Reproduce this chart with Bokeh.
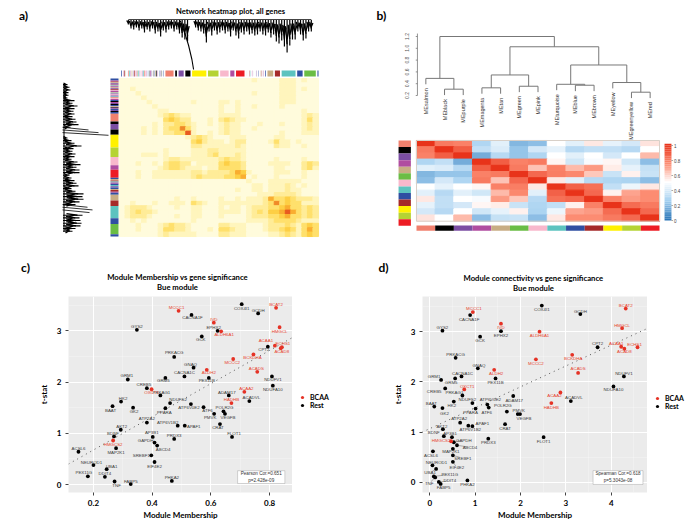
import numpy as np
from bokeh.embed import file_html
from bokeh.resources import INLINE
from bokeh.plotting import figure
from bokeh.layouts import row, column
from bokeh.models import (ColumnDataSource, Range1d, Label, Legend, LegendItem,
                          FixedTicker, BoxAnnotation)
from bokeh.core.properties import value

MOD = dict(salmon="#f0806e", black="#000000", purple="#7b4ea3", magenta="#b04da0", tan="#c8ad84",
           green="#6abd45", pink="#f8b8cc", turquoise="#5cc3bf", blue="#2f4fa2", brown="#a52a2a",
           yellow="#fff100", greenyellow="#b5d334", red="#ed1c24")

a_title = "Network heatmap plot, all genes"
a_modules = ["blue","magenta","brown","tan","purple","salmon","turquoise","magenta","tan","purple","brown","pink",
             "magenta","tan","turquoise","magenta","pink","purple","turquoise","salmon","pink","magenta",
             "blue","black","magenta","purple","black","blue","tan","black","magenta","blue","purple","black","blue",
             "salmon","black","purple","black","yellow","greenyellow","pink","magenta","red",
             "blue","tan","brown","turquoise","magenta","blue","turquoise","purple","blue","tan","brown","magenta","blue",
             "tan","brown","turquoise","blue","green","blue"]
a_sizes = [7,4,3,4,5,3,3,4,3,4,3,3,4,3,3,4,3,4,3,3,3,4,
           4,4,3,4,4,4,3,3,4,4,4,4,6,
           29,10,20,20,47,36,30,17,30,
           5,5,4,4,4,5,5,4,6,4,6,4,7,
           22,20,46,21,39,8]
a_heat = [
 "00000000 00 000 000 00 00 0 00 0100 0 0 111 0 100",
 "00000000 00 000 000 00 00 0 00 0000 0 0 111 0 000",
 "00100000 00 000 000 00 00 0 00 0000 0 0 111 0 100",
 "00010000 00 000 000 00 00 0 00 0100 0 0 111 0 000",
 "00001000 00 000 000 00 00 0 00 0000 0 0 111 0 000",
 "00000100 00 000 100 00 11 0 10 0000 0 0 111 0 000",
 "00000010 00 000 000 00 10 0 10 0100 0 0 100 0 000",
 "00000001 10 000 000 00 10 0 10 0000 0 0 000 0 100",
 "00000001 23 211 000 00 11 1 10 0000 0 0 000 0 121",
 "00000000 34 322 000 10 23 2 11 0000 0 0 000 0 131",
 "00000010 22 332 100 10 12 1 10 0010 0 0 100 0 121",
 "00001010 23 363 100 00 12 1 10 0100 0 0 000 0 121",
 "00001010 22 337 100 10 12 1 10 0000 0 0 100 0 111",
 "00000000 00 001 232 10 00 1 11 0000 0 1 100 0 000",
 "00000000 00 000 342 11 10 1 22 0000 1 3 110 1 000",
 "00000000 00 000 221 11 11 1 21 0000 0 2 110 0 100",
 "00000000 10 000 111 22 11 1 11 0000 0 0 000 0 000",
 "00001110 10 000 111 23 11 1 21 0000 0 0 000 0 000",
 "00000000 12 211 111 11 23 2 21 0000 0 1 000 0 100",
 "00010010 23 322 011 11 34 3 32 0000 1 1 110 0 232",
 "00000001 23 321 110 11 33 3 32 0000 0 1 100 0 231",
 "00010011 11 111 221 22 22 3 54 1000 0 1 110 0 100",
 "00010011 11 111 232 22 23 3 45 0100 0 1 000 0 100",
 "00000000 00 000 000 00 00 0 00 1000 1 1 111 1 000",
 "00000000 00 000 000 00 00 0 00 0110 1 1 121 0 100",
 "00000000 00 000 000 00 00 0 10 0110 1 1 121 1 000",
 "00000000 00 000 000 00 00 0 00 0011 1 2 222 1 000",
 "00000000 00 100 100 00 10 0 10 1112 5 3 343 2 221",
 "00100010 01 110 321 00 11 1 11 1112 3 6 343 3 111",
 "01222100 00 100 110 00 10 1 10 1222 3 3 453 3 232",
 "01232210 00 000 110 00 11 1 10 1232 4 4 575 3 232",
 "01222100 00 100 110 00 10 0 00 1222 3 3 453 3 232",
 "00101000 00 000 100 00 00 0 00 1111 2 3 333 2 111",
 "00010001 23 221 000 00 22 1 11 0001 2 2 232 1 343",
 "00010001 33 221 000 10 33 2 11 0001 2 2 343 1 353",
 "00000001 21 111 100 00 22 1 11 0000 1 1 232 1 343",
]
a_levels = ["#fffbdc","#fff5bd","#ffec98","#ffe06c","#fdcf45","#f9ae30","#f08a28","#e85a20"]
top_drop = [5,9,10,8,11,9,13,10,12,9,14,12,17,11,13,10,9,12,10,14,18,20,22,0,0,8,11,12,14,23,12,16,11,15,13,11,14,12,
            17,11,16,19,13,15,12,15,14,16,15,12,15,16,13,18,15,22,24,21,27,33,26,20,20,12,15,21,19,12,12]
side_drop = [5,7,8,6,6,5,12,10,15,12,11,12,10,13,14,16,8,26,36,46,5,9,12,19,11,10,13,12,9,15,18,14,17,17,7,9,12,14,16,
             9,13,21,20,21,17,13,25,30,27,20,17,18,19,18,13,10]
top_long_x = [11.0,11.9,12.5,13.1,13.4]
top_long_drop = [1.3,15,26,40,50]

b_modules = ["salmon","black","purple","magenta","tan","green","pink","turquoise","blue","brown","yellow","greenyellow","red"]
b_axis_ticks = [0.2,0.4,0.6,0.8,1.0,1.2]
b_corr = [
 [1,.8,.78,.28,.42,.18,.2,.5,.42,.55,.43,.38,.56],
 [.8,1,.88,.33,.4,.22,.38,.43,.3,.33,.33,.3,.5],
 [.78,.88,1,.15,.3,.22,.28,.5,.42,.5,.38,.5,.65],
 [.28,.33,.15,1,.88,.78,.8,.52,.37,.48,.52,.37,.2],
 [.42,.4,.3,.88,1,.8,.63,.78,.65,.72,.54,.43,.34],
 [.18,.22,.22,.78,.8,1,.85,.79,.76,.62,.35,.53,.35],
 [.2,.38,.28,.8,.63,.85,1,.55,.42,.3,.28,.27,.2],
 [.5,.43,.5,.52,.78,.79,.55,1,.87,.83,.33,.45,.55],
 [.42,.3,.42,.37,.65,.76,.42,.87,1,.85,.53,.7,.75],
 [.55,.33,.5,.48,.72,.62,.3,.83,.85,1,.78,.72,.75],
 [.43,.33,.38,.52,.54,.35,.28,.33,.53,.78,1,.84,.8],
 [.38,.3,.5,.37,.43,.53,.27,.45,.7,.72,.84,1,.85],
 [.56,.5,.65,.2,.34,.35,.2,.55,.75,.75,.8,.85,1],
]
corr_stops = [0,.25,.5,.75,1]
corr_cols = [(44,118,184),(165,208,240),(255,255,255),(252,140,114),(232,51,26)]
cb_ticks = [0,0.2,0.4,0.6,0.8,1]

genes = ["MCCC1","CACNA1F","COX4I1","GCDH","BCAT2","IVD","EPHX2","ALDH6A1","HMGCL","GYS2","GCK","ECHS1","ACAA1","ACAD8",
         "CPT2","BCKDHA","PRKACG","MCCC2","GNAQ","ALDH2","ACADS","CACNA1C","NDUFV1","GRM5","PEX11B","GRM1","NDUFA10",
         "CREB5","OXCT1","ACAA2","ADAM17","PRKAG1","HK2","NDUFS2","HADHB","ACADVL","ATP6V0E2","BAAT","GK2","ATF6","PPARA",
         "POLR2G","PMVK","VEGFB","ATP2A2","ATP6V1B2","APAF1","CRAT","AKT2","BDNF","AP3B1","PRDX3","FLOT1","GAPDH","HMGCS2",
         "ABCD4","MAP2K1","ACSL6","SREBF1","EIF4E2","NEUROD1","UBA1","PEX11G","DDIT4","TNF","FABP5","PHKA2"]
bcaa = ["MCCC1","BCAT2","IVD","ALDH6A1","HMGCL","ECHS1","ACAA1","ACAD8","BCKDHA","MCCC2","ALDH2","ACADS","OXCT1",
        "ACAA2","HADHB","HMGCS2"]
c_x = [.49,.534,.705,.761,.822,.61,.623,.635,.834,.348,.569,.842,.818,.838,.794,.745,.475,.676,.541,.586,.758,.51,.808,
       .445,.593,.317,.811,.382,.398,.714,.661,.428,.294,.461,.67,.731,.532,.265,.335,.575,.445,.643,.611,.648,.382,.487,
       .511,.631,.293,.27,.402,.475,.672,.408,.267,.417,.277,.149,.397,.408,.2,.245,.181,.239,.272,.327,.467]
c_y = [3.39,3.31,3.52,3.34,3.45,3.16,3.0,2.99,3.07,3.02,2.89,2.68,2.71,2.66,2.69,2.54,2.49,2.45,2.28,2.24,2.2,2.11,2.11,
       2.08,2.08,2.05,1.93,1.88,1.86,1.81,1.74,1.74,1.62,1.59,1.59,1.63,1.57,1.53,1.5,1.51,1.49,1.43,1.38,1.38,1.21,1.15,
       1.15,1.18,1.07,.94,.93,.89,.93,.82,.86,.76,.71,.64,.57,.44,.38,.3,.16,.15,.06,.01,.07]
c_dx = [-2,1,0,0,0,0,-4,3,0,0,-1,1,-9,1,-4,-1,0,-1,-3,2,-1,0,1,-2,-2,-1,0,-3,0,2,-2,1,2,8,0,2,-2,-2,1,4,-1,1,-4,3,0,-10,9,
        -2,1,-1,-1,0,2,-9,0,6,0,0,-10,0,-2,5,-4,0,2,0,0]
c_dy = [-3,3,4,-3,-3,-3,-3,3,4,-3,3,-4,-5,3,3,3,-4,3,-3,3,-3,-4,3,3,3,-4,4,-4,3,-3,-3,-3,-3,-4,-4,-4,3,4,4,3,4,-4,4,4,-4,-3,1,
        3,-3,-3,-4,-3,-3,-2,4,4,4,-3,0,4,-3,-3,-4,-3,4,-3,-3]
d_x = [.95,.89,2.47,3.32,4.32,1.57,1.57,2.42,4.24,.28,1.11,4.58,4.22,4.29,3.7,3.14,.57,2.34,1.06,1.42,3.27,.7,4.28,.56,1.45,
       .25,4.05,.34,.76,2.88,1.84,.72,.53,.94,2.68,3.11,1.27,.1,.28,1.3,1.01,1.7,1.94,1.99,.67,.85,.94,1.66,.29,.31,.49,1.29,
       2.51,.53,.47,.6,.51,.07,.51,.51,.06,.14,.09,.2,.12,.24,.83]
d_y = [3.39,3.33,3.52,3.35,3.46,3.16,3.01,3.0,3.07,3.02,2.9,2.69,2.7,2.66,2.69,2.54,2.48,2.45,2.27,2.24,2.18,2.11,2.11,2.07,
       2.07,2.04,1.91,1.87,1.85,1.79,1.72,1.73,1.61,1.58,1.58,1.62,1.55,1.51,1.48,1.49,1.47,1.41,1.36,1.36,1.19,1.13,1.12,1.16,
       1.06,.92,.9,.87,.9,.8,.82,.74,.67,.62,.54,.41,.34,.27,.12,.01,.1,-.03,.04]
d_dx = [1,-1,0,0,0,0,0,0,0,0,0,-3,-5,0,0,1,0,0,1,2,0,1,0,-4,0,-7,0,-11,3,-6,1,-8,-2,-5,0,3,3,-3,2,-2,-5,-4,1,4,-1,2,10,0,-1,-10,
        -2,0,0,10,-10,13,-2,-2,10,4,4,-6,16,11,-6,3,0]
d_dy = [-4,4,4,-3,-3,4,4,4,-3,-3,4,-3,-3,3,-4,4,-3,4,-3,4,-4,-3,-3,4,4,-3,3,3,-3,3,4,-3,4,-4,4,-4,-5,-3,5,5,4,-6,-4,4,-4,4,-3,
        4,-3,-4,-4,4,4,-2,-1,2,3,4,3,6,-3,4,-2,-1,6,4,4]
c_fit_x, c_fit_y = [0.115,0.878], [0.40,2.87]
d_fit_x, d_fit_y = [-0.17,4.81], [1.0,3.07]
d_connect = ["PEX11G","DDIT4","TNF","ABCD4","SREBF1","EIF4E2","GAPDH","UBA1"]
c_xticks, c_yticks = [0.2,0.4,0.6,0.8], [0,1,2,3]
d_xticks, d_yticks = [0,1,2,3,4], [0,1,2,3]

BOLD = "Lato"
RED = "#e8432e"
DOT_RED = "#e53225"


def calib(v0, px0, v1, px1, size):
    k = (v1 - v0) / (px1 - px0)
    return v0 - px0 * k, v0 + (size - px0) * k


def canvas_fig(w, h, xr, yr):
    p = figure(width=w, height=h, x_range=Range1d(*xr), y_range=Range1d(yr[1], yr[0]),
               x_axis_type=None, y_axis_type=None, toolbar_location=None, output_backend="svg",
               min_border=0, outline_line_color=None, background_fill_color="white", border_fill_color="white")
    p.grid.visible = False
    return p


def tag(p, x, y, text, fh, size="8px"):
    p.add_layout(Label(x=x, y=fh - y, x_units="screen", y_units="screen", text=text,
                       text_font=BOLD, text_font_size=size, text_color="black", text_font_style="bold",
                       text_align="center", text_baseline="middle"))


# ================= panel a
W_A, H_A = 345, 260
pa = canvas_fig(W_A, H_A, calib(0, 119, 36, 318, W_A), calib(0, 78, 36, 236, H_A))
pa.extra_y_ranges["tree"] = Range1d(*calib(1.0, 19, 0.5, 69, H_A)[::-1])
pa.extra_x_ranges["tree"] = Range1d(*calib(1.0, 62, 0.5, 112, W_A))

rows_a = [r.replace(" ", "") for r in a_heat]
hx, hy, hc = [], [], []
for j, r in enumerate(rows_a):
    for i, ch in enumerate(r):
        hx.append(i + .5); hy.append(j + .5); hc.append(a_levels[int(ch)])
pa.rect(x="x", y="y", width=1.02, height=1.02, color="c",
        source=ColumnDataSource(dict(x=hx, y=hy, c=hc)))

edges = np.cumsum([0] + a_sizes) / sum(a_sizes)
cols = [MOD[m] for m in a_modules]
pa.quad(left=edges[:-1] * 36 + .3, right=edges[1:] * 36, bottom=-0.45, top=-1.8, color=cols, line_width=0)
pa.quad(left=-1.63, right=-0.18, bottom=edges[1:] * 36, top=edges[:-1] * 36, color=cols, line_width=0)

tx = np.linspace(1.6, 34.7, len(top_drop))
td = np.array(top_drop, float)
mk = td > 0
th = 1 - td / 100
step = tx[1] - tx[0]
pa.segment(x0=tx[mk], x1=tx[mk], y0=1.0 - .005, y1=th[mk], color="black", line_width=1.2, y_range_name="tree")
pa.segment(x0=tx[mk] - step * .6, x1=tx[mk], y0=1.0 - td[mk] * .002, y1=1 - td[mk] * .0075, color="black", line_width=1.3,
           y_range_name="tree")
pa.segment(x0=tx[mk] + step * .6, x1=tx[mk], y0=1.0 - td[mk] * .003, y1=1 - td[mk] * .006, color="black", line_width=1.3,
           y_range_name="tree")
pa.segment(x0=[1.6], x1=[34.7], y0=[1.0], y1=[1.0], color="#444444", line_width=1, y_range_name="tree")
pa.line(x=top_long_x, y=1 - np.array(top_long_drop) / 100, color="black", line_width=1.1, y_range_name="tree")

sy = np.linspace(1.4, 34.8, len(side_drop))
sd = np.array(side_drop, float)
sh = 1 - sd / 100
sstep = sy[1] - sy[0]
thin = sd >= 25
pa.segment(x0=1.0, x1=sh[thin], y0=sy[thin] - sstep, y1=sy[thin], color="black", line_width=.8, x_range_name="tree")
pa.segment(x0=1.0 - .005, x1=sh[~thin], y0=sy[~thin], y1=sy[~thin], color="black", line_width=1.1, x_range_name="tree")
pa.segment(x0=1 - .002 * sd[~thin], x1=1 - .0075 * sd[~thin], y0=sy[~thin] - sstep * .6, y1=sy[~thin], color="black",
           line_width=1.3, x_range_name="tree")
pa.segment(x0=1 - .003 * sd[~thin], x1=1 - .006 * sd[~thin], y0=sy[~thin] + sstep * .6, y1=sy[~thin], color="black",
           line_width=1.3, x_range_name="tree")
pa.segment(x0=[0.985], x1=[0.985], y0=[1.4], y1=[34.8], color="black", line_width=1, x_range_name="tree")

tag(pa, 230, 10, a_title, H_A, size="7.6px")
tag(pa, 23, 15, "a)", H_A, size="12px")

# ================= panel b
W_B, H_B = 340, 260
OFF = 345
pb = canvas_fig(W_B, H_B, calib(0, 416 - OFF, 13, 659 - OFF, W_B), calib(0, 140, 13, 220.7, H_B))
pb.extra_y_ranges["tree"] = Range1d(*calib(0.2, 95, 1.2, 36, H_B)[::-1])
pb.extra_y_ranges["bar"] = Range1d(*calib(0, 140, 13, 225.3, H_B)[::-1])
pb.extra_y_ranges["cb"] = Range1d(*calib(0, 220, 1, 145, H_B)[::-1])

pos = [i + .5 for i in range(13)]
tree_seg = [[], [], [], []]
nodes_x = {i: i + .5 for i in range(13)}
nodes_h = {i: None for i in range(13)}
HANG = 0.1
leaf_bottom = {}
pairs = [(1, 2, .307, "a"), (3, 4, .33, "b"), (5, 6, .357, "c"), (8, 9, .374, "d"), (7, "d", .39, "e"),
         (11, 12, .256, "f"), (10, "f", .42, "g"), (0, "a", .49, "h"), ("b", "c", .548, "i"), ("e", "g", .717, "j"),
         ("i", "j", 1.026, "k"), ("h", "k", 1.2, "l")]
for a, b, h, name in pairs:
    for n in (a, b):
        nh = nodes_h[n]
        if nh is None:
            nh = h - HANG
            leaf_bottom[n] = nh
        tree_seg[0].append(nodes_x[n]); tree_seg[1].append(h); tree_seg[2].append(nodes_x[n]); tree_seg[3].append(nh)
    tree_seg[0].append(nodes_x[a]); tree_seg[1].append(h); tree_seg[2].append(nodes_x[b]); tree_seg[3].append(h)
    nodes_x[name] = (nodes_x[a] + nodes_x[b]) / 2
    nodes_h[name] = h
pb.segment(x0=tree_seg[0], y0=tree_seg[1], x1=tree_seg[2], y1=tree_seg[3], color="#777777", line_width=1,
           y_range_name="tree")
lb = np.array([leaf_bottom[i] for i in range(13)]) - 0.068
pb.text(x=pos, y=lb, text=["ME" + m for m in b_modules], angle=np.pi / 2, text_align="right", text_baseline="middle",
        text_font=value("Liberation Sans"), text_font_size="5.5px", text_color="#333333", y_range_name="tree")
AX = 0.05
pb.segment(x0=[AX], x1=[AX], y0=[0.2], y1=[1.25], color="#777777", line_width=.8, y_range_name="tree")
pb.segment(x0=AX, x1=AX - .09, y0=b_axis_ticks, y1=b_axis_ticks, color="#777777", line_width=.8, y_range_name="tree")
pb.text(x=AX - .55, y=b_axis_ticks, text=[f"{t:.1f}" for t in b_axis_ticks], angle=np.pi / 2, text_align="center",
        text_baseline="middle", text_font=value("Liberation Sans"), text_font_size="5px", text_color="#555555",
        y_range_name="tree")


def corr_col(v):
    c = [int(round(np.interp(v, corr_stops, [k[i] for k in corr_cols]))) for i in range(3)]
    return "#%02x%02x%02x" % tuple(c)


bx, by, bc = [], [], []
for j, r in enumerate(b_corr):
    for i, v in enumerate(r):
        bx.append(i + .5); by.append(j + .5); bc.append(corr_col(v))
pb.rect(x="x", y="y", width=1.01, height=1.01, color="c", source=ColumnDataSource(dict(x=bx, y=by, c=bc)))
pb.rect(x=[6.5], y=[6.5], width=13, height=13, fill_alpha=0, line_color="#d8d0c8", line_width=1)
mcols = [MOD[m] for m in b_modules]
pb.quad(left=-.96, right=-.3, bottom=np.arange(1, 14), top=np.arange(0, 13), color=mcols, line_width=0,
        y_range_name="bar")
pb.quad(left=np.arange(0, 13), right=np.arange(1, 14), top=13.7, bottom=14.55, color=mcols, line_width=0)
cv = np.linspace(0, 1, 41)
pb.quad(left=13.27, right=13.64, bottom=cv, top=cv + 1 / 40, color=[corr_col(v) for v in cv], line_width=0,
        y_range_name="cb")
pb.segment(x0=13.64, x1=13.72, y0=cb_ticks, y1=cb_ticks, color="#666666", line_width=.6, y_range_name="cb")
pb.text(x=13.78, y=cb_ticks, text=[f"{t:g}" for t in cb_ticks], text_baseline="middle",
        text_font=value("Liberation Sans"), text_font_size="4.5px", text_color="#444444", y_range_name="cb")
tag(pb, 381 - OFF, 15, "b)", H_B, size="12px")

# ================= header strip for panels c, d (page y 260..293)
H_H = 33
ph = canvas_fig(685, H_H, (0, 685), (0, H_H))
for x, y, t, s in [(25, 7, "c)", "12px"), (383, 7, "d)", "12px"),
                   (177, 16, "Module Membership vs gene significance", "7.7px"), (177, 26, "Bue module", "7.7px"),
                   (533, 17, "Module connectivity vs gene significance", "7.7px"), (533, 27, "Bue module", "7.7px")]:
    tag(ph, x, y, t, H_H, size=s)


def scatter_panel(W, H, fl, ft, fb, xr, yr, xt, yt, xs, ys, dxs, dys, fitx, fity, box, box_lines, xminor, yminor,
                  connect=(), sx=1, sy=1):
    p = figure(width=W, height=H, x_range=Range1d(*xr), y_range=Range1d(*yr), toolbar_location=None,
               output_backend="svg", min_border_left=fl, min_border_right=0, min_border_top=ft, min_border_bottom=fb,
               background_fill_color="#ebebeb", outline_line_color=None, border_fill_color="white")
    p.xaxis.ticker = FixedTicker(ticks=xt, minor_ticks=xminor)
    p.yaxis.ticker = FixedTicker(ticks=yt, minor_ticks=yminor)
    p.xaxis.axis_label = "Module Membership"
    p.yaxis.axis_label = "t-stat"
    for ax in (p.xaxis[0], p.yaxis[0]):
        ax.axis_line_color = None
        ax.major_tick_line_color = "#444444"
        ax.major_tick_in = 0
        ax.major_tick_out = 3
        ax.minor_tick_line_color = None
        ax.major_label_text_font = BOLD
        ax.major_label_text_font_style = "bold"
        ax.major_label_text_font_size = "8px"
        ax.major_label_text_color = "black"
        ax.major_label_standoff = 3
        ax.axis_label_text_font = BOLD
        ax.axis_label_text_font_style = "bold"
        ax.axis_label_text_font_size = "8px"
        ax.axis_label_text_color = "black"
        ax.axis_label_standoff = 5
    p.xaxis[0].axis_label_standoff = 1
    p.yaxis[0].major_label_orientation = "horizontal"
    p.grid.grid_line_color = "white"
    p.grid.grid_line_width = 1
    p.grid.minor_grid_line_color = "white"
    p.grid.minor_grid_line_alpha = .5
    p.grid.minor_grid_line_width = .5

    p.line(fitx, fity, color="#555555", line_width=1, line_dash="1 4")
    is_red = np.array([g in bcaa for g in genes])
    xs, ys, dxs, dys = map(np.array, (xs, ys, dxs, dys))
    names = np.array(genes)
    if len(connect):
        m = np.array([g in connect for g in genes])
        p.segment(x0=xs[m], y0=ys[m], x1=xs[m] + dxs[m] * sx * .7, y1=ys[m] - dys[m] * sy * .7,
                  color="#666666", line_width=.5)
    p.scatter(xs[~is_red], ys[~is_red], size=3.8, color="black", line_width=0)
    p.scatter(xs[is_red], ys[is_red], size=3.8, color=DOT_RED, line_width=0)
    for mask, col in ((~is_red, "#3a3a3a"), (is_red, RED)):
        p.text(x="x", y="y", text="t", x_offset="dx", y_offset="dy", text_align="center", text_baseline="middle",
               text_font=value("Liberation Sans"), text_font_size="4.4px", text_color=col,
               source=ColumnDataSource(dict(x=xs[mask], y=ys[mask], t=names[mask], dx=dxs[mask], dy=dys[mask])))
    p.add_layout(BoxAnnotation(left=box[0], right=box[1], bottom=box[2], top=box[3], fill_color="white", fill_alpha=1,
                               line_color="#777777", line_width=1))
    p.text(x=[(box[0] + box[1]) / 2] * 2, y=[box_lines[0][1], box_lines[1][1]], text=[box_lines[0][0], box_lines[1][0]],
           text_align="center", text_baseline="middle", text_font=value("Liberation Sans"), text_font_size="4.6px",
           text_color="#333333", level="overlay")
    return p


def legend_fig(w, h, loc):
    p = canvas_fig(w, h, (0, 1), (0, 1))
    r_b = p.scatter([np.nan], [np.nan], size=3.8, color=DOT_RED, line_width=0)
    r_r = p.scatter([np.nan], [np.nan], size=3.8, color="black", line_width=0)
    p.add_layout(Legend(items=[LegendItem(label="BCAA", renderers=[r_b]), LegendItem(label="Rest", renderers=[r_r])],
                        location=loc, background_fill_alpha=0, border_line_color=None, padding=0, margin=0, spacing=0,
                        glyph_width=8, glyph_height=8, label_height=8, label_standoff=4, label_text_font=BOLD,
                        label_text_font_style="bold", label_text_font_size="7px", label_text_color="black"))
    return p


H_S = 229
pc = scatter_panel(292, H_S, 68, 0, 30, (0.115, 0.878), (-0.155, 3.67), c_xticks, c_yticks, c_x, c_y, c_dx, c_dy,
                   c_fit_x, c_fit_y, (0.691, 0.852, 0.02, 0.27),
                   [("Pearson Cor.=0.651", 0.22), ("p=2.428e-09", 0.077)], [0.3, 0.5, 0.7], [0.5, 1.5, 2.5, 3.5])
pd_ = scatter_panel(302, H_S, 77, 3, 28, (-0.16, 4.8), (-0.2, 3.7), d_xticks, d_yticks, d_x, d_y, d_dx, d_dy,
                    d_fit_x, d_fit_y, (3.6, 4.7, -0.04, 0.236),
                    [("Spearman Cor.=0.618", 0.177), ("p=5.3043e-08", 0.04)],
                    [0.5, 1.5, 2.5, 3.5, 4.5], [0.5, 1.5, 2.5, 3.5], connect=d_connect, sx=1 / 45.3, sy=1 / 50.8)

root = column(row(pa, pb), ph,
              row(pc, legend_fig(53, H_S, (6, 83)), pd_, legend_fig(38, H_S, (6, 82))))
open("out.html", "w").write(file_html(root, INLINE))
